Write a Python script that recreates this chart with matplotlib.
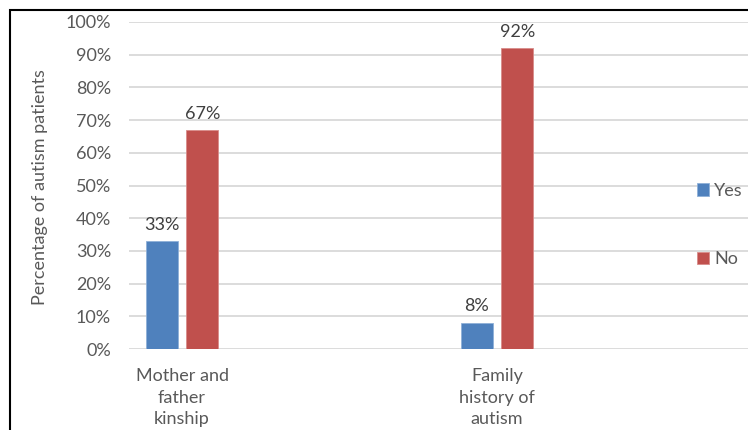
import matplotlib.pyplot as plt
import numpy as np
from matplotlib.patches import Rectangle

# survey results for each risk factor
categories = ['Mother and\nfather\nkinship', 'Family\nhistory of\nautism']
yes_pct = [33, 8]
no_pct = [67, 92]
series_names = ['Yes', 'No']
yticks = [0, 10, 20, 30, 40, 50, 60, 70, 80, 90, 100]

plt.rcParams['font.family'] = ['Lato', 'DejaVu Sans']
fs = 13

fig = plt.figure(figsize=(7.48, 4.30), dpi=100)
W, H = 748, 430
ax = fig.add_axes([129 / W, (H - 349) / H, 1 - 129 / W, 327 / H])

x = np.arange(len(categories))
bar_w = 0.1016
off = 0.0643
blue = '#4F81BD'
red = '#C0504D'
b1 = ax.bar(x - off, yes_pct, bar_w, color=blue, edgecolor='#8FB0D8', linewidth=0.6, zorder=3, label=series_names[0])
b2 = ax.bar(x + off, no_pct, bar_w, color=red, edgecolor='#D88C8A', linewidth=0.6, zorder=3, label=series_names[1])

# value labels above each bar
for bars, vals in [(b1, yes_pct), (b2, no_pct)]:
    for rect, v in zip(bars, vals):
        ax.annotate(f'{v}%', (rect.get_x() + rect.get_width() / 2, v),
                    xytext=(0, 8.2), textcoords='offset points',
                    ha='center', va='baseline', fontsize=fs, color='#404040')

ax.set_xlim(-53 / 315, (W - 182) / 315)
ax.set_ylim(0, 100)
ax.set_yticks(yticks)
ax.set_yticklabels([f'{t}%' for t in yticks])
ax.set_xticks(x)
ax.set_xticklabels(categories, linespacing=1.45)
ax.tick_params(axis='y', length=0, pad=13, labelsize=fs, labelcolor='#595959')
ax.tick_params(axis='x', length=0, pad=13.5, labelsize=fs, labelcolor='#595959')

for s in ax.spines.values():
    s.set_visible(False)
ax.grid(axis='y', color='#D9D9D9', linewidth=1.3, zorder=0)
ax.set_axisbelow(True)

ax.set_ylabel('Percentage of autism patients', fontsize=fs, color='#595959')
ax.yaxis.set_label_coords(-81 / 619, 0.495)

fig.legend(handles=[b1, b2], loc='center left', bbox_to_anchor=(697 / W, 1 - 225 / H),
           frameon=False, fontsize=fs, labelcolor='#595959', borderpad=0, borderaxespad=0,
           handlelength=0.65, handleheight=0.65, handletextpad=0.3, labelspacing=2.9)

# outer frame around the chart
fig.add_artist(Rectangle((10 / W, -0.1), 1.2, 1.1 - 10.5 / H, transform=fig.transFigure,
                         fill=False, edgecolor='black', linewidth=1.5, zorder=10))

fig.savefig('out.png', dpi=100, facecolor='white')
